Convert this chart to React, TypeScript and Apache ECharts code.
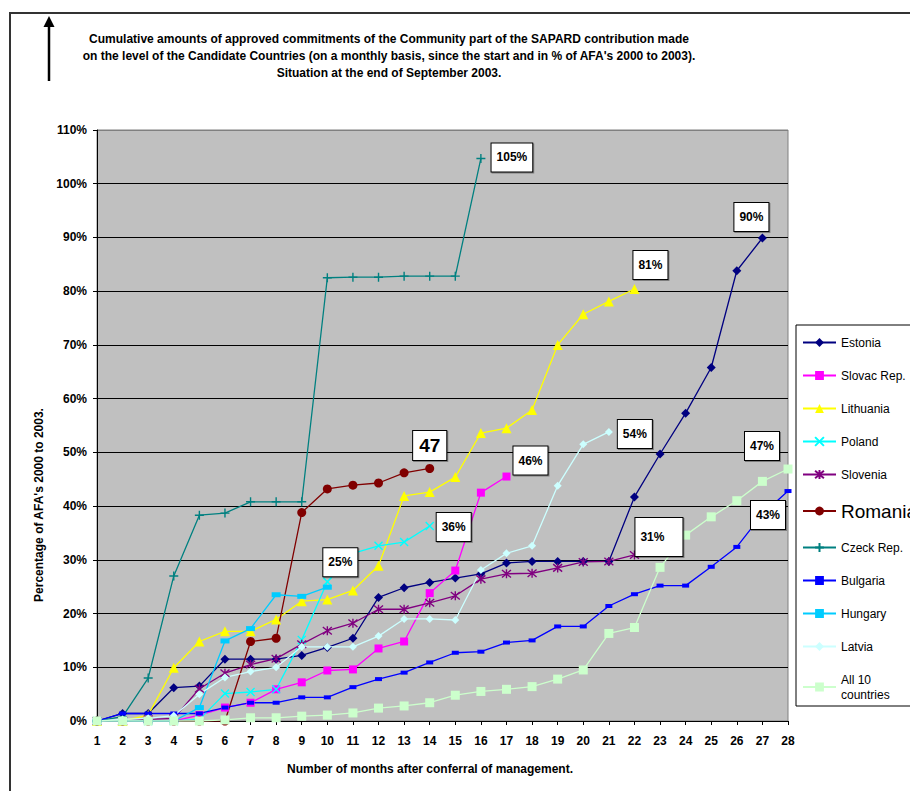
import React, { useEffect, useRef } from "react";
import * as echarts from "echarts";

const FONT = "Liberation Sans, Arial, sans-serif";

const months = ["1","2","3","4","5","6","7","8","9","10","11","12","13","14","15","16","17","18","19","20","21","22","23","24","25","26","27","28"];
const yTicks = [0, 10, 20, 30, 40, 50, 60, 70, 80, 90, 100, 110];

const estonia = [0, 1.4, 1.4, 6.2, 6.5, 11.5, 11.5, 11.5, 12.2, 13.7, 15.4, 23.0, 24.8, 25.8, 26.6, 27.4, 29.4, 29.7, 29.7, 29.7, 29.7, 41.7, 49.7, 57.3, 65.8, 83.8, 89.9];
const slovac = [0, 0, 0, 0, 1.1, 2.5, 3.4, 5.9, 7.2, 9.4, 9.6, 13.5, 14.8, 23.8, 28.0, 42.5, 45.5];
const lithuania = [0, 0, 1.1, 9.9, 14.8, 16.7, 16.7, 18.9, 22.3, 22.6, 24.3, 28.9, 41.9, 42.6, 45.4, 53.6, 54.5, 57.9, 70.0, 75.7, 78.1, 80.4];
const poland = [0, 0, 0, 0, 0.3, 5.1, 5.4, 5.9, 15.1, 25.9, 31.2, 32.6, 33.3, 36.3];
const slovenia = [0, 0, 0.3, 0.5, 6.0, 8.9, 10.5, 11.6, 14.3, 16.8, 18.2, 20.8, 20.8, 22.0, 23.3, 26.4, 27.4, 27.5, 28.5, 29.6, 29.7, 30.9];
const romania = [0, 0, 0, 0, 0, 0, 14.8, 15.4, 38.8, 43.2, 43.9, 44.3, 46.2, 47.0];
const czeck = [0, 0.8, 8.0, 27.0, 38.3, 38.7, 40.8, 40.8, 40.8, 82.5, 82.6, 82.6, 82.8, 82.8, 82.8, 104.7];
const bulgaria = [0, 1.4, 1.4, 1.4, 1.4, 2.5, 3.4, 3.4, 4.4, 4.4, 6.3, 7.8, 9.0, 10.9, 12.7, 12.9, 14.6, 15.0, 17.6, 17.6, 21.4, 23.6, 25.2, 25.2, 28.7, 32.4, 38.5, 42.8];
const hungary = [0, 0, 0, 0, 2.5, 14.9, 17.2, 23.5, 23.2, 24.9];
const latvia = [0, 0.3, 0.5, 1.0, 5.0, 8.1, 9.2, 10.0, 13.8, 13.8, 13.8, 15.8, 19.0, 19.0, 18.8, 28.1, 31.2, 32.6, 43.8, 51.5, 53.8];
const all10 = [0, 0, 0, 0, 0, 0.2, 0.6, 0.6, 0.9, 1.1, 1.5, 2.4, 2.8, 3.4, 4.8, 5.5, 5.9, 6.4, 7.8, 9.5, 16.3, 17.4, 28.6, 34.6, 38.0, 41.0, 44.6, 46.9];

const seriesNames = ["Estonia", "Slovac Rep.", "Lithuania", "Poland", "Slovenia", "Romania", "Czeck Rep.", "Bulgaria", "Hungary", "Latvia", "All 10 countries"];
const endLabels = ["90%", "46%", "81%", "36%", "31%", "47", "105%", "43%", "25%", "54%", "47%"];

const App = () => {
  const ref = useRef<HTMLDivElement>(null);
  useEffect(() => {
    if (!ref.current) return;
    const chart = echarts.init(ref.current, null, { renderer: "svg" });

    const boxLabel = (text: string, offset: number[], extra: any = {}) => ({
      show: true,
      position: "inside",
      offset,
      formatter: text,
      backgroundColor: "#ffffff",
      borderColor: "#000000",
      borderWidth: 1,
      padding: [8, 5, 8, 5],
      color: "#000",
      fontFamily: FONT,
      fontWeight: "bold",
      fontSize: 12,
      shadowColor: "rgba(0,0,0,0.35)",
      shadowOffsetX: 1,
      shadowOffsetY: 1,
      ...extra,
    });

    const withEnd = (arr: number[], label: any) =>
      arr.map((v, i) => (i === arr.length - 1 ? { value: v, label } : v));

    const mk = (
      name: string,
      data: any[],
      color: string,
      symbol: string,
      symbolSize: any,
      stroke = false
    ) => ({
      type: "line",
      name,
      data,
      symbol,
      symbolSize,
      showSymbol: true,
      lineStyle: { color, width: 1.3 },
      itemStyle: stroke
        ? { color: "rgba(0,0,0,0)", borderColor: color, borderWidth: 1.4 }
        : { color, borderColor: color, borderWidth: 0 },
      emphasis: { disabled: true },
      label: { show: false },
      z: 2,
    });

    const xSym = "path://M0,0L10,10M10,0L0,10";
    const starSym = "path://M0,0L10,10M10,0L0,10M5,-1L5,11";
    const plusSym = "path://M5,0L5,10M0,5L10,5";

    const series: any[] = [
      mk(seriesNames[0], withEnd(estonia, boxLabel(endLabels[0], [-11, -21])), "#000080", "diamond", 9),
      mk(seriesNames[1], withEnd(slovac, boxLabel(endLabels[1], [24, -16])), "#FF00FF", "rect", 8),
      mk(seriesNames[2], withEnd(lithuania, boxLabel(endLabels[2], [16, -24])), "#FFFF00", "triangle", 10),
      mk(seriesNames[3], withEnd(poland, boxLabel(endLabels[3], [24, 1])), "#00FFFF", xSym, 8, true),
      mk(seriesNames[4], withEnd(slovenia, boxLabel(endLabels[4], [1, -18], { padding: [10, 18, 16, 5], align: "left" })), "#800080", starSym, 9, true),
      mk(seriesNames[5], withEnd(romania, boxLabel(endLabels[5], [0, -23], { fontSize: 19, padding: [6, 6, 4, 6] })), "#800000", "circle", 9),
      mk(seriesNames[6], withEnd(czeck, boxLabel(endLabels[6], [31, -1])), "#008080", plusSym, 9, true),
      mk(seriesNames[7], withEnd(bulgaria, boxLabel(endLabels[7], [-20, 24])), "#0000FF", "rect", [7, 4]),
      mk(seriesNames[8], withEnd(hungary, boxLabel(endLabels[8], [13, -25])), "#00CCFF", "rect", [9, 5]),
      mk(seriesNames[9], withEnd(latvia, boxLabel(endLabels[9], [26, 2])), "#CCFFFF", "diamond", 8),
      mk(seriesNames[10], withEnd(all10, boxLabel(endLabels[10], [-26, -23])), "#CCFFCC", "rect", 9),
    ];

    const splitColors = yTicks.map((t) => (t === 110 ? "#808080" : "#000000"));
    const bold12 = `bold 12px ${FONT}`;

    chart.setOption({
      animation: false,
      backgroundColor: "#ffffff",
      textStyle: { fontFamily: FONT },
      grid: {
        left: 97,
        right: 122,
        top: 130,
        bottom: 70,
        show: true,
        backgroundColor: "#C0C0C0",
        borderColor: "#808080",
        borderWidth: 1,
      },
      xAxis: {
        type: "category",
        data: months,
        boundaryGap: false,
        axisLine: { show: true, lineStyle: { color: "#000", width: 1 } },
        axisTick: { show: true, length: 4, lineStyle: { color: "#000" } },
        axisLabel: { color: "#000", fontWeight: "bold", fontSize: 12, fontFamily: FONT, margin: 14, interval: 0 },
        splitLine: { show: false },
      },
      yAxis: {
        type: "value",
        min: 0,
        max: 110,
        interval: 10,
        axisLine: { show: true, lineStyle: { color: "#000", width: 1 } },
        axisTick: { show: true, length: 4, lineStyle: { color: "#000" } },
        axisLabel: { color: "#000", fontWeight: "bold", fontSize: 12, fontFamily: FONT, margin: 10, formatter: "{value}%" },
        splitLine: { show: true, lineStyle: { color: splitColors, width: 1 } },
      },
      legend: {
        orient: "vertical",
        left: 796,
        top: 325,
        padding: [10, 6, 4, 6],
        itemGap: 18,
        itemWidth: 33,
        itemHeight: 11,
        borderColor: "#000",
        borderWidth: 1,
        backgroundColor: "#ffffff",
        textStyle: { fontFamily: FONT, fontSize: 12, color: "#000", lineHeight: 15 },
        formatter: (n: string) => (n === "All 10 countries" ? "All 10\ncountries" : n),
        data: seriesNames.map((n) =>
          n === "Romania" ? { name: n, textStyle: { fontSize: 19, fontFamily: FONT, color: "#000", lineHeight: 22 } } : { name: n }
        ),
      },
      series,
      graphic: [
        {
          type: "rect",
          shape: { x: 10, y: 13, width: 1000, height: 1000 },
          style: { fill: "none", stroke: "#333333", lineWidth: 2 },
          silent: true,
          z: -10,
        },
        {
          type: "line",
          shape: { x1: 49, y1: 81, x2: 49, y2: 26 },
          style: { stroke: "#000", lineWidth: 2.5 },
          silent: true,
        },
        {
          type: "polygon",
          shape: { points: [[43.5, 27], [49, 16], [54.5, 27]] },
          style: { fill: "#000" },
          silent: true,
        },
        {
          type: "text",
          style: {
            x: 389, y: 39, text: "Cumulative amounts of approved commitments of the Community part of the SAPARD contribution made",
            textAlign: "center", textVerticalAlign: "middle", font: bold12, fill: "#000",
          },
          silent: true,
        },
        {
          type: "text",
          style: {
            x: 389, y: 56, text: "on the level of the Candidate Countries (on a monthly basis, since the start and in % of AFA's 2000 to 2003).",
            textAlign: "center", textVerticalAlign: "middle", font: bold12, fill: "#000",
          },
          silent: true,
        },
        {
          type: "text",
          style: {
            x: 389, y: 73, text: "Situation at the end of September 2003.",
            textAlign: "center", textVerticalAlign: "middle", font: bold12, fill: "#000",
          },
          silent: true,
        },
        {
          type: "text",
          x: 39,
          y: 505,
          rotation: Math.PI / 2,
          style: {
            x: 0, y: 0, text: "Percentage of AFA's 2000 to 2003.",
            textAlign: "center", textVerticalAlign: "middle", font: bold12, fill: "#000",
          },
          silent: true,
        },
        {
          type: "text",
          style: {
            x: 430, y: 769, text: "Number of months after conferral of management.",
            textAlign: "center", textVerticalAlign: "middle", font: bold12, fill: "#000",
          },
          silent: true,
        },
      ],
    });
    return () => chart.dispose();
  }, []);
  return (
    <div
      ref={ref}
      style={{ position: "absolute", left: 0, top: 0, width: 910, height: 791 }}
    />
  );
};

export default App;
